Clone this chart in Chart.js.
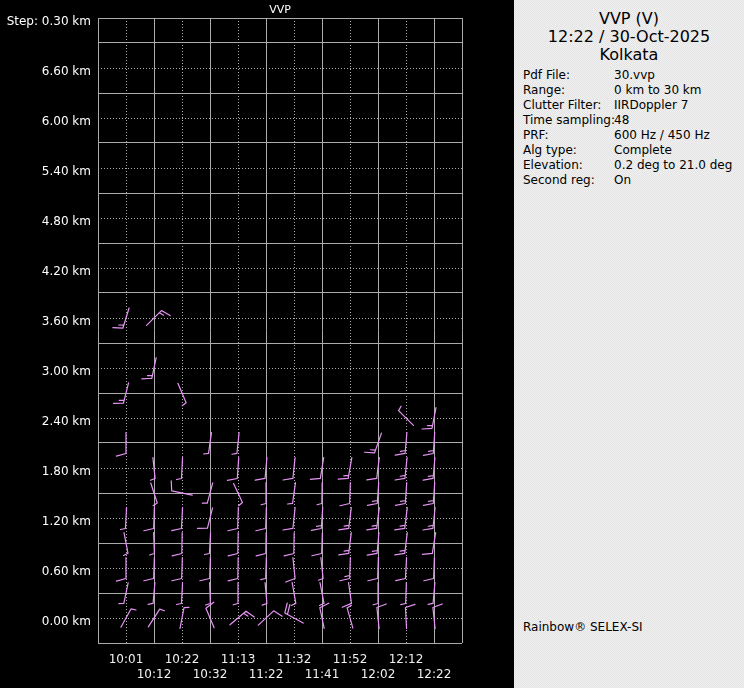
<!DOCTYPE html>
<html><head><meta charset="utf-8">
<script src="https://cdn.jsdelivr.net/npm/chart.js@4.4.1/dist/chart.umd.min.js"></script>
<style>
html,body{margin:0;padding:0;background:#000;width:744px;height:688px;overflow:hidden;font-family:'DejaVu Sans',sans-serif;}
#wrap{position:absolute;left:0;top:0;width:514px;height:688px;}
#panel{position:absolute;left:514px;top:0;width:230px;height:688px;color:#000;
  background:repeating-conic-gradient(#f1f1f1 0 25%, #e3e3e3 0 50%) 0 0/2px 2px;}
.hd{position:absolute;left:0;width:230px;text-align:center;font-size:16px;line-height:18px;white-space:nowrap;}
.row{position:absolute;left:9px;width:220px;font-size:12px;line-height:15px;white-space:nowrap;}
.val{position:absolute;left:91px;top:0;}
</style>
</head><body>
<div id="wrap"><canvas id="c"></canvas></div>
<div id="panel"></div>
<script>
// ---- data ----
const timeLabels = ['10:01','10:12','10:22','10:32','11:13','11:22','11:32','11:41','11:52','12:02','12:12','12:22'];
const heightKm = [0.0,0.3,0.6,0.9,1.2,1.5,1.8,2.1,2.4,2.7,3.0,3.3,3.6];
// wind direction (deg, from) per time column, per height level (null = no estimate)
const windDirDeg = [
  [29,192,180,169,183,null,null,180,null,194,null,null,197],
  [33,185,182,178,182,162,174,null,null,null,192,null,45],
  [11,183,182,181,183,282,183,null,null,157,null,null,null],
  [337,178,182,183,194,195,null,188],
  [50,180,181,181,182,155,184,186],
  [47,175,182,181,182,180,185],
  [299,170,174,181,186,188,186],
  [348,169,174,182,184,181,189],
  [344,172,182,187,187,182,190],
  [354,180,182,185,187,184,187,199],
  [357,182,183,187,187,184,186,185,315],
  [354,185,182,189,186,184,185,184,191]
];
// wind speed (kt) per time column, per height level
const windSpeedKt = [
  [5,5,10,5,5,null,null,10,null,15,null,null,15],
  [5,5,10,5,10,5,5,null,null,null,15,null,15],
  [5,5,10,10,10,10,5,null,null,5,null,null,null],
  [10,5,10,5,10,5,null,5],
  [15,5,10,10,10,5,10,5],
  [10,5,5,10,10,5,10],
  [20,5,10,10,10,5,10],
  [10,5,5,10,15,5,10],
  [5,10,15,15,15,10,15],
  [10,5,10,15,15,15,10,15],
  [10,5,10,15,15,15,15,15,5],
  [10,5,10,10,15,15,15,15,15]
];
const stepKm = 0.3;
const yMinKm = -0.3, yMaxKm = 7.2;
const yStepLabel = 'Step: 0.30 km';
const chartTitle = 'VVP';
const panelTitle = ['VVP (V)', '12:22 / 30-Oct-2025', 'Kolkata'];
const infoLabels = ['Pdf File:', 'Range:', 'Clutter Filter:', 'Time sampling:', 'PRF:', 'Alg type:', 'Elevation:', 'Second reg:'];
const infoValues = ['30.vvp', '0 km to 30 km', 'IIRDoppler 7', '48', '600 Hz / 450 Hz', 'Complete', '0.2 deg to 21.0 deg', 'On'];
const footerText = 'Rainbow\u00AE SELEX-SI';

// ---- side panel ----
const panel = document.getElementById('panel');
panelTitle.forEach((t, i) => {
  const d = document.createElement('div'); d.className = 'hd';
  d.style.top = (9.5 + 18 * i) + 'px'; d.textContent = t; panel.appendChild(d);
});
infoLabels.forEach((l, i) => {
  const d = document.createElement('div'); d.className = 'row';
  d.style.top = (67.5 + 15 * i) + 'px';
  const a = document.createElement('span'); a.textContent = l;
  const b = document.createElement('span'); b.className = 'val'; b.textContent = infoValues[i];
  d.appendChild(a); d.appendChild(b); panel.appendChild(d);
});
const ft = document.createElement('div'); ft.className = 'row'; ft.style.top = '620px';
ft.textContent = footerText; panel.appendChild(ft);

// ---- chart ----
const points = [];
timeLabels.forEach((t, ti) => heightKm.forEach((h, hi) => {
  const d = windDirDeg[ti][hi];
  if (d !== null && d !== undefined) points.push({x: ti, y: h, dir: d, spd: windSpeedKt[ti][hi]});
}));

const yTickVals = [];
for (let k = -1; k <= 24; k++) yTickVals.push(Math.round(k * stepKm * 10) / 10);
const xTickVals = [];
for (let v = -1; v <= timeLabels.length; v++) xTickVals.push(v);

const GRID = '#ababab';
const BARB = '#e894f6';
const STAFF = 21, SPACING = 3, FULL = 10, HALF = 5, FANG = 75 * Math.PI / 180;

function drawBarb(ctx, cx, cy, dir, spd) {
  const a = dir * Math.PI / 180;
  const ux = Math.sin(a), uy = -Math.cos(a);
  const rx = -uy, ry = ux;
  const ex = cx + ux * STAFF / 2, ey = cy + uy * STAFF / 2;
  ctx.beginPath();
  ctx.moveTo(cx - ux * STAFF / 2, cy - uy * STAFF / 2);
  ctx.lineTo(ex, ey);
  const fx = Math.cos(FANG) * ux + Math.sin(FANG) * rx;
  const fy = Math.cos(FANG) * uy + Math.sin(FANG) * ry;
  let n10 = Math.floor(spd / 10), n5 = (spd % 10) >= 5 ? 1 : 0, k = 0;
  for (let i = 0; i < n10; i++, k++) {
    const px = ex - ux * k * SPACING, py = ey - uy * k * SPACING;
    ctx.moveTo(px, py); ctx.lineTo(px + fx * FULL, py + fy * FULL);
  }
  for (let i = 0; i < n5; i++, k++) {
    const px = ex - ux * k * SPACING, py = ey - uy * k * SPACING;
    ctx.moveTo(px, py); ctx.lineTo(px + fx * HALF, py + fy * HALF);
  }
  ctx.stroke();
}

const barbPlugin = {
  id: 'barbs',
  afterDatasetsDraw(chart) {
    const meta = chart.getDatasetMeta(0);
    const data = chart.data.datasets[0].data;
    const ctx = chart.ctx;
    ctx.save();
    ctx.strokeStyle = BARB; ctx.lineWidth = 1.2; ctx.lineCap = 'round';
    meta.data.forEach((el, i) => drawBarb(ctx, el.x, el.y, data[i].dir, data[i].spd));
    ctx.restore();
  },
  afterDraw(chart) {
    const ctx = chart.ctx, ca = chart.chartArea;
    ctx.save();
    ctx.fillStyle = '#ffffff';
    ctx.font = "11px 'DejaVu Sans'";
    ctx.textAlign = 'center'; ctx.textBaseline = 'middle';
    ctx.fillText(chartTitle, (ca.left + ca.right) / 2, 10);
    ctx.restore();
  }
};

Chart.defaults.font.family = "'DejaVu Sans', sans-serif";
Chart.defaults.font.size = 12;

new Chart(document.getElementById('c'), {
  type: 'scatter',
  data: { datasets: [{ data: points, pointRadius: 0, pointHoverRadius: 0, showLine: false }] },
  options: {
    responsive: true, maintainAspectRatio: false, animation: false,
    events: [],
    layout: { padding: { top: 18, right: 52, bottom: 0, left: 0 } },
    plugins: { legend: { display: false }, tooltip: { enabled: false }, title: { display: false } },
    scales: {
      x: {
        type: 'linear', min: -1, max: timeLabels.length,
        afterBuildTicks: s => { s.ticks = xTickVals.map(v => ({ value: v })); },
        afterFit: s => { s.height = 45; },
        grid: { color: GRID, lineWidth: 1, drawTicks: false },
        border: { display: false, dash: c => {
          const v = c.tick ? c.tick.value : -1;
          return (v >= 0 && v < timeLabels.length && v % 2 === 0) ? [1, 2] : [];
        } },
        ticks: {
          autoSkip: false, maxRotation: 0, minRotation: 0, padding: 10, color: '#f0f0f0',
          font: { size: 12 },
          callback: v => {
            if (v < 0 || v >= timeLabels.length) return '';
            return v % 2 === 0 ? timeLabels[v] : ['', timeLabels[v]];
          }
        }
      },
      y: {
        type: 'linear', min: yMinKm, max: yMaxKm,
        afterBuildTicks: s => { s.ticks = yTickVals.map(v => ({ value: v })); },
        afterFit: s => { s.width = 98; },
        grid: { color: GRID, lineWidth: 1, drawTicks: false },
        border: { display: false, dash: c => {
          if (!c.tick) return [];
          const k = Math.round(c.tick.value / stepKm);
          return (k >= 0 && k < 24 && k % 2 === 0) ? [1, 2] : [];
        } },
        ticks: {
          autoSkip: false, padding: 7, color: '#ffffff', labelOffset: 4,
          font: { size: 12 },
          callback: v => {
            const k = Math.round(v / stepKm);
            if (k === 24) return yStepLabel;
            if (k >= 0 && k % 2 === 0) return v.toFixed(2) + ' km';
            return '';
          }
        }
      }
    }
  },
  plugins: [barbPlugin]
});
</script>
</body></html>
